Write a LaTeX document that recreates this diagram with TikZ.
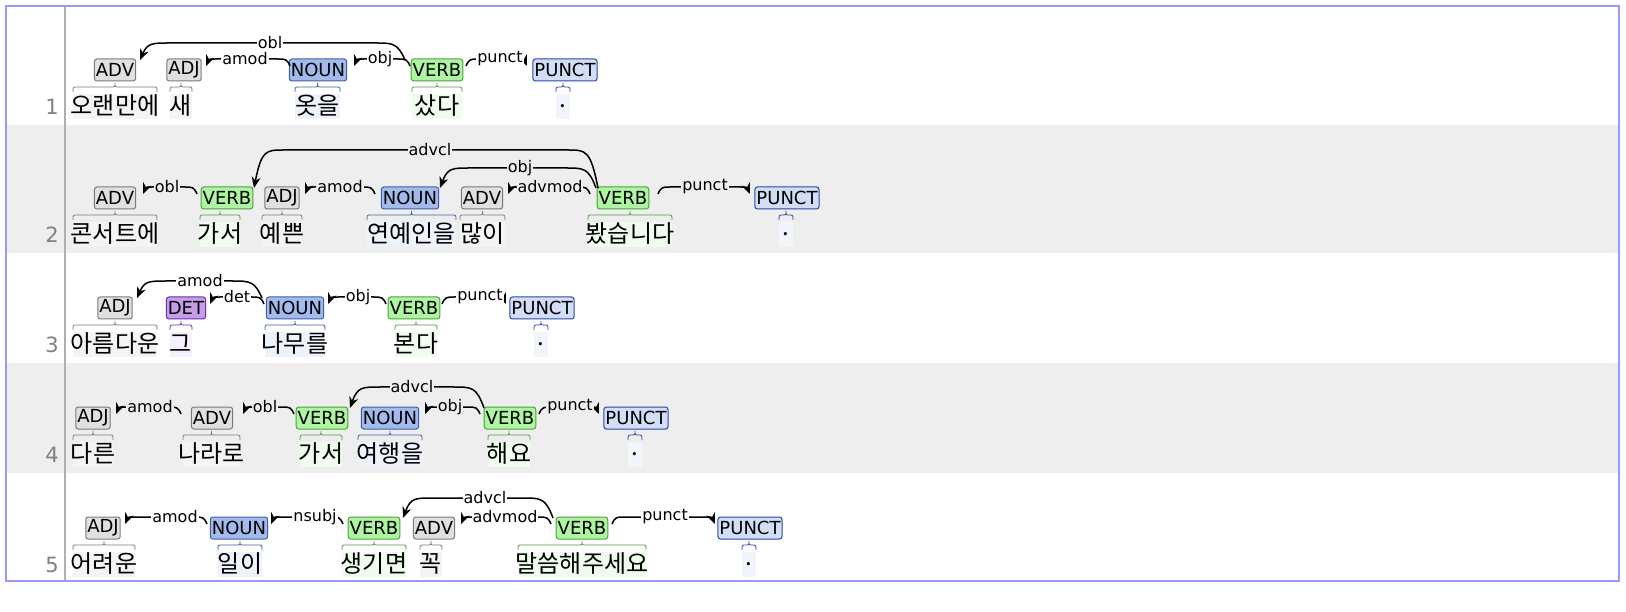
\documentclass[tikz,border=0pt]{standalone}
\usepackage{fontspec}
\setmainfont{DejaVu Sans}
\newfontfamily\kr{Noto Sans CJK KR}
\usetikzlibrary{arrows.meta}
\definecolor{gbd}{HTML}{7A7A7A}\definecolor{gfl}{HTML}{E0E0E0}\definecolor{gwd}{HTML}{F4F4F4}
\definecolor{nbd}{HTML}{3F5FA8}\definecolor{nfl}{HTML}{A3BBEC}\definecolor{nwd}{HTML}{EEF2FA}
\definecolor{vbd}{HTML}{4FA03F}\definecolor{vfl}{HTML}{AEF5A2}\definecolor{vwd}{HTML}{F0FCEE}
\definecolor{pbd}{HTML}{2A46A8}\definecolor{pfl}{HTML}{D2DEF6}\definecolor{pwd}{HTML}{F2F5FC}
\definecolor{dbd}{HTML}{6A2FA8}\definecolor{dfl}{HTML}{C59DEB}\definecolor{dwd}{HTML}{F6F0FC}
\definecolor{rowg}{HTML}{EEEEEE}
\tikzset{tagbox/.style={draw=#1bd,fill=#1fl,line width=1pt,rounded corners=2.5pt,inner xsep=1.5pt,inner ysep=0pt,minimum height=22pt,font=\fontsize{18}{18}\selectfont},
 arcline/.style={line width=1.5pt,-{Stealth[length=11pt,width=9pt]}},
 arclab/.style={fill=#1,inner sep=1pt,font=\fontsize{16}{16}\selectfont}}
% \tok{name}{x}{ty}{tag}{cls}{wl}{wr}{word}
\newcommand\tok[8]{%
 \node[tagbox=#5] (#1) at (#2,#3) {#4};
 \fill[#5wd] (#6,#3+24) rectangle (#7,#3+49);
 \node[font=\kr\fontsize{24}{24}\selectfont,inner sep=0pt] (#1w) at ({(#6+#7)/2},#3+36) {#8};
 \pgfmathsetmacro\cc{(#6+#7)/2}
 \draw[#5bd,line width=0.8pt] (#6,#3+22) .. controls (#6,#3+17) .. (#6+4,#3+17) -- (\cc-4,#3+17) .. controls (\cc,#3+17) .. (\cc,#3+13) .. controls (\cc,#3+17) .. (\cc+4,#3+17) -- (#7-4,#3+17) .. controls (#7,#3+17) .. (#7,#3+22);}
% \darc{x1}{x2}{ytop}{ybase}{label}{lx}{fill}
\newcommand\darc[7]{%
 \pgfmathsetmacro\sg{(#2>#1)?1:-1}
 \pgfmathsetmacro\dd{((#4-#3)>15)?30:12}
 \draw[arcline] (#1,#4) .. controls ({#1+\sg*\dd*0.25},#3) and ({#1+\sg*\dd*0.4},#3) .. ({#1+\sg*\dd},#3) -- ({#2-\sg*\dd},#3) .. controls ({#2-\sg*\dd*0.4},#3) and ({#2-\sg*\dd*0.25},#3) .. (#2,#4);
 \node[arclab=#7] at (#6,#3) {#5};}
\begin{document}
\begin{tikzpicture}[x=1pt,y=-1pt]
\useasboundingbox (0,0) rectangle (1626,612);
\fill[white] (0,0) rectangle (1626,612);
\fill[rowg] (65,125) rectangle (1619,253);
\fill[rowg] (65,363) rectangle (1619,473);
\fill[rowg] (6,125) rectangle (65,253);
\fill[rowg] (6,363) rectangle (65,473);
\draw[gbd!60,line width=1.5pt] (65,6) -- (65,581);
\draw[blue!40!white,line width=1.2pt] (6,6) rectangle (1619,581);
\foreach \n/\y in {1/107,2/235,3/345,4/455,5/565}
 \node[font=\fontsize{21}{21}\selectfont,text=gray] (num\n) at (52,\y) {\n};
% row 1
\tok{a1}{115}{70}{ADV}{g}{73}{157}{오랜만에}
\tok{a2}{184}{70}{ADJ}{g}{170}{192}{새}
\tok{a3}{318}{70}{NOUN}{n}{295}{340}{옷을}
\tok{a4}{437}{70}{VERB}{v}{412}{462}{샀다}
\tok{a5}{565}{70}{PUNCT}{p}{556}{570}{.}
\darc{405}{140}{43}{60}{obl}{270}{white}
\darc{290}{206}{59}{66}{amod}{245}{white}
\darc{410}{354}{59}{66}{obj}{380}{white}
\darc{466}{527}{59}{66}{punct}{500}{white}
% row 2
\tok{b1}{115}{198}{ADV}{g}{73}{157}{콘서트에}
\tok{b2}{227}{198}{VERB}{v}{200}{240}{가서}
\tok{b3}{282}{198}{ADJ}{g}{262}{302}{예쁜}
\tok{b4}{410}{198}{NOUN}{n}{367}{456}{연예인을}
\tok{b5}{482}{198}{ADV}{g}{460}{505}{많이}
\tok{b6}{623}{198}{VERB}{v}{588}{672}{봤습니다}
\tok{b7}{787}{198}{PUNCT}{p}{779}{793}{.}
\darc{197}{143}{187}{194}{obl}{167}{rowg}
\darc{375}{305}{187}{194}{amod}{340}{rowg}
\darc{590}{508}{187}{194}{advmod}{550}{rowg}
\darc{598}{254}{150}{188}{advcl}{430}{rowg}
\darc{596}{440}{168}{188}{obj}{520}{rowg}
\darc{658}{750}{187}{194}{punct}{705}{rowg}
% row 3
\tok{c1}{115}{308}{ADJ}{g}{73}{157}{아름다운}
\tok{c2}{186}{308}{DET}{d}{170}{192}{그}
\tok{c3}{295}{308}{NOUN}{n}{265}{325}{나무를}
\tok{c4}{414}{308}{VERB}{v}{395}{437}{본다}
\tok{c5}{542}{308}{PUNCT}{p}{534}{548}{.}
\darc{262}{137}{281}{298}{amod}{200}{white}
\darc{264}{210}{297}{304}{det}{237}{white}
\darc{386}{328}{297}{304}{obj}{358}{white}
\darc{442}{506}{297}{304}{punct}{480}{white}
% row 4
\tok{d1}{93}{418}{ADJ}{g}{73}{113}{다른}
\tok{d2}{212}{418}{ADV}{g}{183}{240}{나라로}
\tok{d3}{322}{418}{VERB}{v}{300}{342}{가서}
\tok{d4}{390}{418}{NOUN}{n}{358}{422}{여행을}
\tok{d5}{510}{418}{VERB}{v}{488}{530}{해요}
\tok{d6}{636}{418}{PUNCT}{p}{628}{642}{.}
\darc{181}{116}{407}{414}{amod}{150}{rowg}
\darc{294}{243}{407}{414}{obl}{265}{rowg}
\darc{484}{350}{387}{408}{advcl}{412}{rowg}
\darc{480}{425}{407}{414}{obj}{450}{rowg}
\darc{539}{599}{407}{414}{punct}{570}{rowg}
% row 5
\tok{e1}{103}{528}{ADJ}{g}{73}{135}{어려운}
\tok{e2}{239}{528}{NOUN}{n}{218}{262}{일이}
\tok{e3}{374}{528}{VERB}{v}{342}{406}{생기면}
\tok{e4}{434}{528}{ADV}{g}{420}{442}{꼭}
\tok{e5}{582}{528}{VERB}{v}{518}{646}{말씀해주세요}
\tok{e6}{750}{528}{PUNCT}{p}{742}{756}{.}
\darc{207}{125}{517}{524}{amod}{175}{white}
\darc{343}{271}{517}{524}{nsubj}{315}{white}
\darc{551}{461}{517}{524}{advmod}{505}{white}
\darc{553}{403}{498}{518}{advcl}{485}{white}
\darc{612}{715}{517}{524}{punct}{665}{white}
\end{tikzpicture}
\end{document}
